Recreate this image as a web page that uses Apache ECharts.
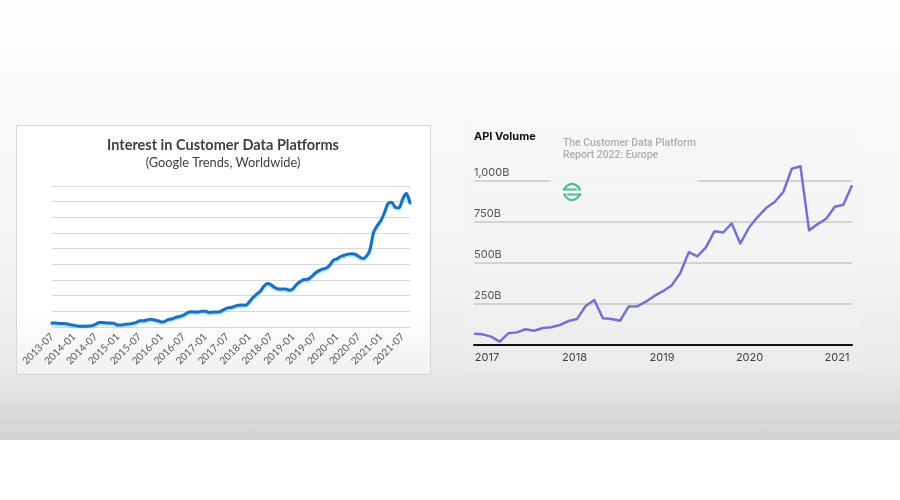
<!DOCTYPE html>
<html>
<head>
<meta charset="utf-8">
<script src="https://cdn.jsdelivr.net/npm/echarts@6/dist/echarts.min.js"></script>
<style>
  html, body { margin: 0; padding: 0; }
  body {
    width: 900px; height: 500px; position: relative; overflow: hidden;
    background: linear-gradient(to bottom, #fefefe 0px, #fefefe 48px, #fbfbfb 48px, #f5f5f5 240px, #e9e9e9 370px, #d2d2d2 440px, #ffffff 440px, #ffffff 500px);
  }
  #leftPanel {
    position: absolute; left: 16px; top: 125px; width: 413px; height: 248px;
    border: 1px solid #d6d6d6;
    background: linear-gradient(to bottom, #ffffff 0%, #ffffff 75%, #f1f1f1 100%);
  }
  #rightPanel {
    position: absolute; left: 466px; top: 122px; width: 395px; height: 248px;
    background: linear-gradient(to bottom, #f7f7f7 0%, #f3f3f3 60%, #ebebeb 100%);
  }
  #chart { position: absolute; left: 0; top: 0; width: 900px; height: 500px; }
</style>
</head>
<body>
<div id="leftPanel"></div>
<div id="rightPanel"></div>
<div id="chart"></div>
<script>
// ---------- Left chart: Google Trends interest (monthly, 2013-07 .. 2021-09) ----------
const trendStart = { year: 2013, month: 7 };
const trendCount = 99;
const trendMonths = [];
for (let i = 0; i < trendCount; i++) {
  const m0 = trendStart.month - 1 + i;
  const y = trendStart.year + Math.floor(m0 / 12);
  const m = (m0 % 12) + 1;
  trendMonths.push(y + '-' + (m < 10 ? '0' + m : m));
}
const interestValues = [
  2.6, 2.6, 2.3, 2.3, 2.1, 1.5, 1.1, 0.6, 0.4, 0.4,
  0.6, 0.9, 1.9, 2.8, 2.8, 2.6, 2.6, 2.3, 1.3, 1.3,
  1.7, 1.9, 2.3, 2.8, 4.0, 4.0, 4.5, 4.9, 4.5, 4.0,
  3.2, 3.8, 4.9, 5.3, 6.2, 6.8, 7.5, 9.0, 9.8, 9.6,
  9.6, 10.0, 10.0, 9.2, 9.6, 9.6, 9.8, 11.1, 12.2, 12.4,
  13.2, 13.9, 14.1, 13.9, 16.0, 18.8, 20.9, 22.8, 26.0, 27.7,
  26.9, 25.2, 24.3, 24.3, 24.3, 23.5, 24.5, 27.3, 29.0, 30.3,
  30.5, 32.0, 34.3, 35.8, 36.9, 37.5, 39.4, 42.6, 43.5, 45.0,
  45.8, 46.5, 46.7, 46.5, 45.0, 43.7, 45.0, 49.0, 60.1, 64.6,
  67.8, 72.9, 78.9, 79.7, 76.3, 76.1, 81.7, 85.3, 79.3
];
const leftTitle = 'Interest in Customer Data Platforms';
const leftSubtitle = '(Google Trends, Worldwide)';

// ---------- Right chart: API Volume ----------
const apiPeriods = [];
for (let i = 0; i < 45; i++) apiPeriods.push('p' + i);
const apiVolume = [
  69, 65, 51, 20, 71, 77, 96, 87, 104, 108,
  122, 146, 159, 238, 274, 163, 159, 148, 234, 236,
  264, 299, 328, 363, 438, 566, 540, 595, 694, 686,
  741, 619, 715, 780, 835, 872, 933, 1075, 1090, 699,
  737, 770, 843, 855, 974
];
const apiYTicks = ['', '250B', '500B', '750B', '1,000B'];
const apiYears = [2017, 2018, 2019, 2020, 2021];
const apiYearRange = [2016.851, 2021.171];
const rightTitle = 'API Volume';
const watermark1 = 'The Customer Data Platform';
const watermark2 = 'Report 2022: Europe';

const chart = echarts.init(document.getElementById('chart'), null, { renderer: 'canvas' });
const leftFont = 'Lato, "Open Sans", sans-serif';
const rightFont = 'Inter, Roboto, sans-serif';
const wmFont = 'Roboto, Inter, sans-serif';
const green = '#4fba92';

const option = {
  backgroundColor: 'transparent',
  animation: false,
  grid: [
    { left: 52, right: 490, top: 186, bottom: 173 },
    { left: 474, right: 48, top: 181, bottom: 155 }
  ],
  xAxis: [
    {
      gridIndex: 0, type: 'category', data: trendMonths, boundaryGap: false,
      axisLine: { show: false }, axisTick: { show: false },
      axisLabel: {
        interval: 5, rotate: 45, margin: 8, fontSize: 10.2,
        color: '#595959', fontFamily: leftFont
      },
      splitLine: { show: false }
    },
    {
      gridIndex: 1, type: 'category', data: apiPeriods, boundaryGap: false,
      position: 'bottom',
      axisLine: { show: true, lineStyle: { color: '#111111', width: 2 } },
      axisTick: { show: false }, axisLabel: { show: false }, splitLine: { show: false }
    },
    {
      gridIndex: 1, type: 'value', position: 'bottom',
      min: apiYearRange[0], max: apiYearRange[1],
      axisLine: { show: false }, axisTick: { show: false }, splitLine: { show: false },
      axisLabel: {
        customValues: apiYears, formatter: v => String(Math.round(v)),
        margin: 7, fontSize: 11, color: '#3d3d3d', fontFamily: rightFont
      }
    }
  ],
  yAxis: [
    {
      gridIndex: 0, type: 'value', min: 0, max: 90, interval: 10,
      axisLine: { show: false }, axisTick: { show: false }, axisLabel: { show: false },
      splitLine: { lineStyle: { color: '#d9d9d9', width: 1 } }
    },
    {
      gridIndex: 1, type: 'value', min: 0, max: 1000, interval: 250,
      axisLine: { show: false }, axisTick: { show: false },
      axisLabel: {
        inside: true, margin: 0, verticalAlign: 'bottom', padding: [0, 0, 3, 0],
        fontSize: 11, color: '#555555', fontFamily: rightFont,
        formatter: v => apiYTicks[Math.round(v / 250)]
      },
      splitLine: { lineStyle: { color: '#c9c9c9', width: 1.5 } }
    }
  ],
  series: [
    {
      type: 'line', xAxisIndex: 0, yAxisIndex: 0, data: interestValues,
      showSymbol: false, smooth: 0.25,
      lineStyle: {
        color: '#1f6fbe', width: 3, cap: 'round', join: 'round',
        shadowColor: 'rgba(90,190,240,0.55)', shadowBlur: 2, shadowOffsetY: 1.5
      }
    },
    {
      type: 'line', xAxisIndex: 1, yAxisIndex: 1, data: apiVolume,
      showSymbol: false, clip: false,
      lineStyle: { color: '#7571d3', width: 2.5, join: 'round' },
      z: 5
    }
  ],
  graphic: [
    // gap in the 1,000B grid line behind the watermark
    { type: 'rect', z: 3, shape: { x: 551, y: 178, width: 146, height: 6 }, style: { fill: '#f5f5f5' } },
    { type: 'text', z: 6, x: 223, y: 145, style: { text: leftTitle, fill: '#404040', font: 'bold 14.5px ' + leftFont, align: 'center', verticalAlign: 'middle' } },
    { type: 'text', z: 6, x: 223, y: 163, style: { text: leftSubtitle, fill: '#404040', font: '12.8px ' + leftFont, align: 'center', verticalAlign: 'middle' } },
    { type: 'text', z: 6, x: 474, y: 137, style: { text: rightTitle, fill: '#111111', font: 'bold 11px ' + rightFont, align: 'left', verticalAlign: 'middle' } },
    { type: 'text', z: 6, x: 563, y: 143.5, style: { text: watermark1, fill: '#adadad', font: '500 10.4px ' + wmFont, align: 'left', verticalAlign: 'middle' } },
    { type: 'text', z: 6, x: 563, y: 155.5, style: { text: watermark2, fill: '#adadad', font: '500 10.4px ' + wmFont, align: 'left', verticalAlign: 'middle' } },
    // Segment-like logo
    { type: 'arc', z: 6, shape: { cx: 572, cy: 192, r: 8, startAngle: Math.PI * 1.12, endAngle: Math.PI * 1.88 }, style: { stroke: green, lineWidth: 2.2, fill: null, lineCap: 'round' } },
    { type: 'arc', z: 6, shape: { cx: 572, cy: 192, r: 8, startAngle: Math.PI * 0.12, endAngle: Math.PI * 0.88 }, style: { stroke: green, lineWidth: 2.2, fill: null, lineCap: 'round' } },
    { type: 'line', z: 6, shape: { x1: 563.5, y1: 189.5, x2: 576, y2: 189.5 }, style: { stroke: green, lineWidth: 2.2, lineCap: 'round' } },
    { type: 'line', z: 6, shape: { x1: 568, y1: 194.5, x2: 580.5, y2: 194.5 }, style: { stroke: green, lineWidth: 2.2, lineCap: 'round' } },
    { type: 'circle', z: 6, shape: { cx: 579.5, cy: 189.5, r: 1.2 }, style: { fill: green } },
    { type: 'circle', z: 6, shape: { cx: 564.5, cy: 194.5, r: 1.2 }, style: { fill: green } }
  ]
};
chart.setOption(option);
</script>
</body>
</html>
